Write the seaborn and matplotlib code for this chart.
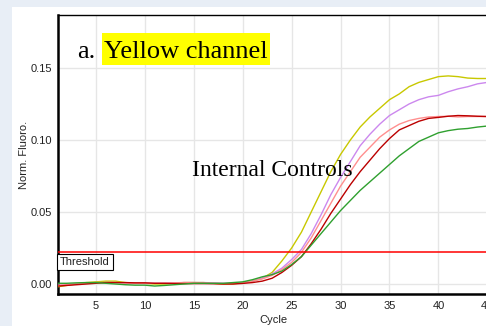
import numpy as np
import pandas as pd
import matplotlib
matplotlib.use("Agg")
import matplotlib.pyplot as plt
from matplotlib.patches import Rectangle
import seaborn as sns

cycles = list(range(1, 46))

yellow = [-0.002, -0.001, 0.000, 0.001, 0.0015, 0.002, 0.002, 0.001, 0.0005, 0.0005,
          0.000, 0.000, 0.0005, 0.001, 0.001, 0.001, 0.0005, 0.000, 0.000, 0.001,
          0.002, 0.004, 0.008, 0.016, 0.025, 0.036, 0.050, 0.064, 0.078, 0.090,
          0.100, 0.109, 0.116, 0.122, 0.128, 0.132, 0.137, 0.140, 0.142, 0.144,
          0.1445, 0.144, 0.143, 0.1427, 0.1427]
purple = [-0.001, -0.0005, 0.000, 0.0005, 0.001, 0.001, 0.001, 0.0008, 0.0005, 0.0005,
          0.0005, 0.0005, 0.0008, 0.001, 0.001, 0.001, 0.0008, 0.0005, 0.0005, 0.001,
          0.002, 0.004, 0.007, 0.011, 0.017, 0.024, 0.035, 0.048, 0.062, 0.074,
          0.085, 0.096, 0.104, 0.111, 0.117, 0.121, 0.125, 0.128, 0.130, 0.131,
          0.1335, 0.1355, 0.137, 0.139, 0.140]
salmon = [-0.001, -0.0005, 0.000, 0.0005, 0.0008, 0.001, 0.001, 0.0008, 0.0005, 0.0005,
          0.0005, 0.0005, 0.0008, 0.001, 0.001, 0.0008, 0.0005, 0.0003, 0.0003, 0.001,
          0.002, 0.0035, 0.006, 0.010, 0.015, 0.022, 0.032, 0.044, 0.056, 0.068,
          0.078, 0.088, 0.095, 0.102, 0.107, 0.111, 0.1135, 0.115, 0.116, 0.1163,
          0.1165, 0.116, 0.1163, 0.1163, 0.1163]
darkred = [-0.0015, -0.001, -0.0005, 0.000, 0.0005, 0.001, 0.001, 0.001, 0.0008, 0.0008,
           0.0005, 0.0005, 0.0003, 0.0003, 0.0003, 0.0003, 0.0002, 0.000, 0.000, 0.0004,
           0.001, 0.002, 0.004, 0.008, 0.013, 0.019, 0.028, 0.038, 0.049, 0.059,
           0.069, 0.078, 0.086, 0.094, 0.101, 0.107, 0.110, 0.113, 0.115, 0.1157,
           0.1165, 0.117, 0.1168, 0.1165, 0.1163]
green = [0.0005, 0.0005, 0.0008, 0.001, 0.001, 0.0005, 0.000, -0.0005, -0.0008, -0.0008,
         -0.0014, -0.001, -0.0005, 0.000, 0.0005, 0.0005, 0.0005, 0.0005, 0.001, 0.0015,
         0.003, 0.005, 0.0065, 0.009, 0.0135, 0.019, 0.027, 0.035, 0.043, 0.051,
         0.058, 0.065, 0.071, 0.077, 0.083, 0.089, 0.094, 0.099, 0.102, 0.105,
         0.1065, 0.1075, 0.108, 0.109, 0.1097]

threshold = 0.0222
x_ticks = [5, 10, 15, 20, 25, 30, 35, 40, 45]
y_ticks = [0.00, 0.05, 0.10, 0.15]

series = {"S1": yellow, "S2": purple, "S3": salmon, "S4": darkred, "S5": green}
colors = ["#c8c800", "#cc88ee", "#ff8f8f", "#bb0000", "#2fa02f"]

df = pd.concat(
    [pd.DataFrame({"Cycle": cycles, "Norm. Fluoro.": v, "sample": k}) for k, v in series.items()],
    ignore_index=True,
)

sns.set_style("white")
plt.rcParams["font.family"] = ["Liberation Sans", "DejaVu Sans"]

W, H = 486, 326
fig = plt.figure(figsize=(W / 100, H / 100), dpi=100)
fig.patch.set_facecolor("#e8eef6")
# white page panel behind the chart
fig.patches.append(Rectangle((12 / W, 0), 1, (H - 7) / H, transform=fig.transFigure,
                             facecolor="white", edgecolor="none", zorder=-5))

ax_l, ax_r, ax_t, ax_b = 58, 489.3, 15, 294
ax = fig.add_axes([ax_l / W, (H - ax_b) / H, (ax_r - ax_l) / W, (ax_b - ax_t) / H])
ax.set_zorder(1)
ax.set_facecolor("white")

sns.lineplot(data=df, x="Cycle", y="Norm. Fluoro.", hue="sample", palette=colors,
             linewidth=1.0, legend=False, ax=ax, zorder=3)

ax.axhline(threshold, color="#ff0000", lw=1.1, zorder=4)

ax.set_xlim(1.12, 45.2)
ax.set_ylim(-0.00694, 0.1868)
ax.set_xticks(x_ticks)
ax.set_yticks(y_ticks)
ax.set_yticklabels([f"{v:.2f}" for v in y_ticks])
ax.grid(True, color="#e6e6e6", lw=1.0, zorder=0)
ax.set_axisbelow(True)
ax.tick_params(axis="y", length=3, width=0.8, color="#999999", labelsize=8, pad=1.5, labelcolor="#222222")
ax.tick_params(axis="x", length=0, labelsize=8, pad=5, labelcolor="#222222")

for side in ["left", "bottom"]:
    ax.spines[side].set_color("black")
    ax.spines[side].set_linewidth(1.8)
ax.spines["top"].set_color("black")
ax.spines["top"].set_linewidth(1.0)
ax.spines["right"].set_visible(False)

ax.set_xlabel("Cycle", fontsize=8, labelpad=3, color="#222222")
ax.set_ylabel("Norm. Fluoro.", fontsize=8, labelpad=1, color="#222222")

ax.text(0.005, threshold - 0.0068, "Threshold", fontsize=8, color="#222222",
        transform=ax.get_yaxis_transform(), va="center", ha="left", zorder=6,
        bbox=dict(boxstyle="square,pad=0.25", facecolor="white", edgecolor="black", lw=0.8))

serif = ["Liberation Serif", "DejaVu Serif"]
# yellow highlight behind the channel name
fig.patches.append(Rectangle((102 / W, (H - 65) / H), 168 / W, 32 / H, transform=fig.transFigure,
                             facecolor="#ffff00", edgecolor="none", zorder=5))
fig.text(77 / W, (H - 58) / H, "a.", family=serif, fontsize=19, color="black",
         ha="left", va="baseline", zorder=10)
fig.text(104 / W, (H - 58) / H, "Yellow channel", family=serif, fontsize=19, color="black",
         ha="left", va="baseline", zorder=10)
ax.text(23.0, 0.0785, "Internal Controls", family=serif, fontsize=17, color="black",
        ha="center", va="center", zorder=7)

fig.savefig("out.png", dpi=100, facecolor=fig.get_facecolor())
